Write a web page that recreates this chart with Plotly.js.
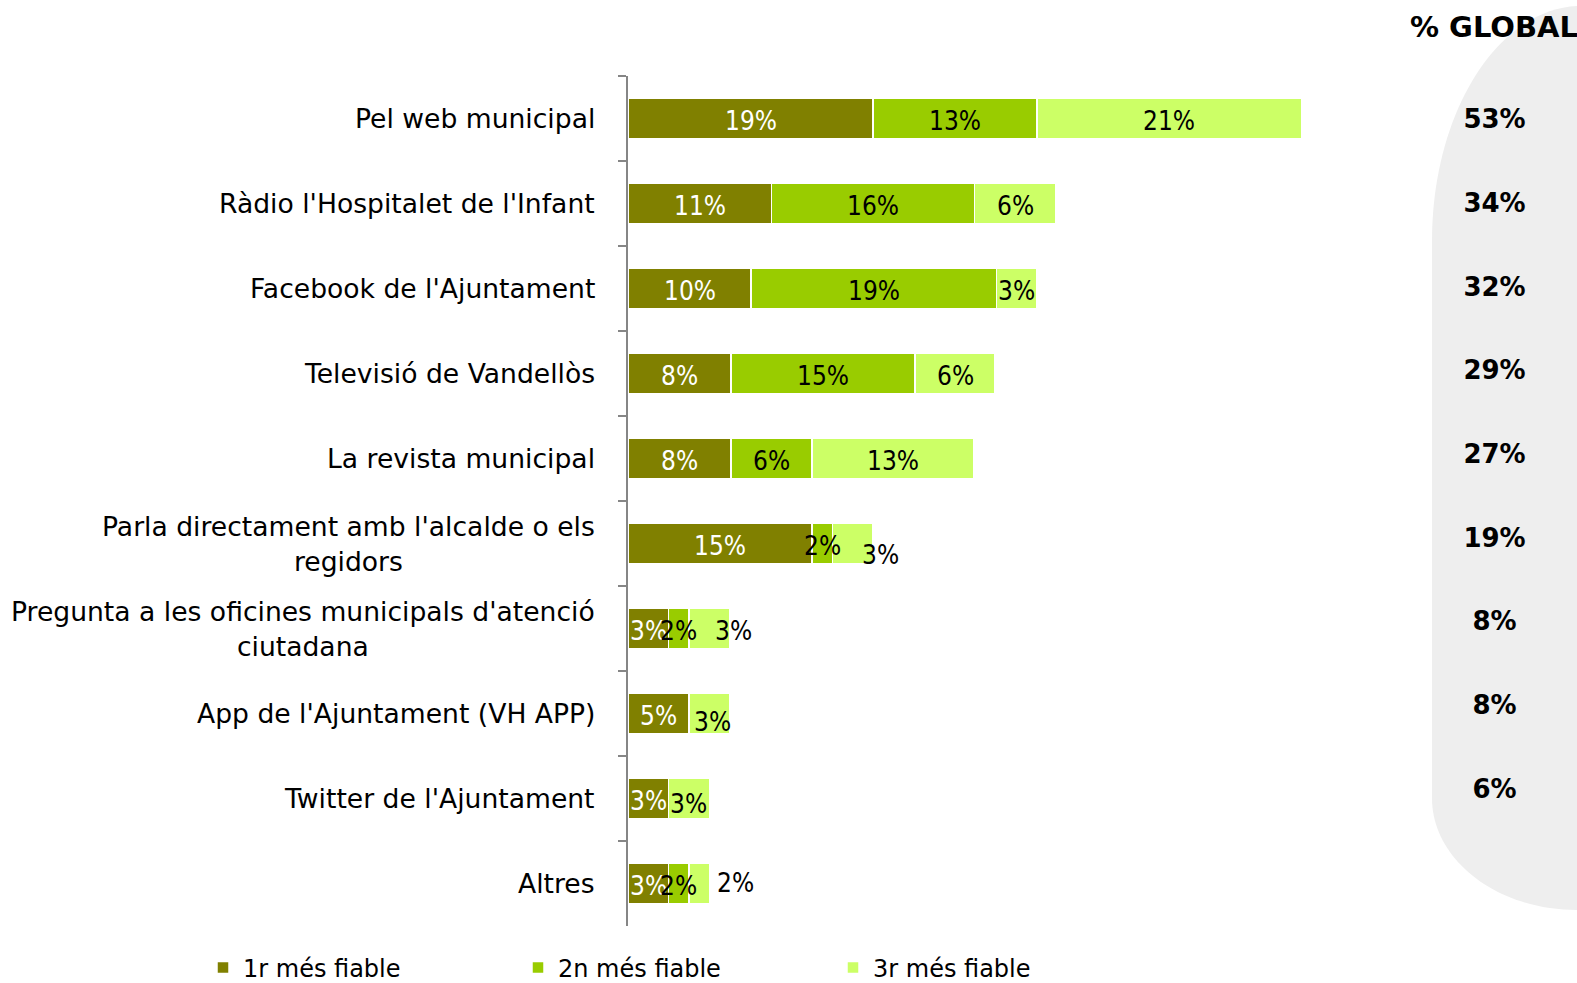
<!DOCTYPE html>
<html>
<head>
<meta charset="utf-8">
<script src="https://cdn.plot.ly/plotly-3.0.1.min.js"></script>
<style>html,body{margin:0;padding:0;background:#fff;}#chart{width:1577px;height:983px;}</style>
</head>
<body>
<div id="chart"></div>
<script>
// ---- data ----
const categories = [
  "Pel web municipal",
  "Ràdio l'Hospitalet de l'Infant",
  "Facebook de l'Ajuntament",
  "Televisió de Vandellòs",
  "La revista municipal",
  "Parla directament amb l'alcalde o els<br>regidors",
  "Pregunta a les oficines municipals d'atenció<br>ciutadana",
  "App de l'Ajuntament (VH APP)",
  "Twitter de l'Ajuntament",
  "Altres"
];
const seriesNames = ["1r més fiable", "2n més fiable", "3r més fiable"];
const first  = [19.3, 11.3, 9.7, 8.1, 8.1, 14.5, 3.2, 4.8, 3.2, 3.2];
const second = [12.9, 16.0, 19.3, 14.5, 6.4, 1.6, 1.6, 0, 0, 1.6];
const third  = [20.85, 6.4, 3.2, 6.3, 12.75, 3.2, 3.2, 3.2, 3.2, 1.6];
const firstLabels  = ["19%","11%","10%","8%","8%","15%","3%","5%","3%","3%"];
const secondLabels = ["13%","16%","19%","15%","6%","2%","2%","","","2%"];
const thirdLabels  = ["21%","6%","3%","6%","13%","3%","3%","3%","3%","2%"];
const globalLabels = ["53%","34%","32%","29%","27%","19%","8%","8%","6%"];
const globalTitle = "% GLOBAL";

// ---- style ----
const FONT = "DejaVu Sans";
const LABEL_FONT = "DejaVu Sans Condensed, DejaVu Sans";
const colors = ["#808000", "#99CC00", "#CCFF66"];
const textColors = ["#FFFFFF", "#000000", "#000000"];
// manual label nudges (px), keyed "row,series"
const labelNudge = {"5,2":[28,-9], "6,2":[24,0], "7,2":[3,-6], "8,2":[0,-3], "9,2":[36,3]};

const W = 1577, H = 983;
const M = {l: 628, r: 0, t: 76, b: 57, autoexpand: false};
const pw = W - M.l - M.r, ph = H - M.t - M.b;
const px2x = px => (px - M.l) / pw;
const py2y = py => (H - M.b - py) / ph;

const values = [first, second, third];
const labels = [firstLabels, secondLabels, thirdLabels];

const traces = values.map((v, s) => ({
  type: "bar", orientation: "h", name: seriesNames[s],
  y: categories, x: v.map(d => d === 0 ? null : d),
  marker: {color: colors[s], line: {color: "#FFFFFF", width: 1.5}},
  hoverinfo: "skip"
}));

// global column as text trace on its own axes
traces.push({
  type: "scatter", mode: "text", showlegend: false, hoverinfo: "skip",
  xaxis: "x2", yaxis: "y2", cliponaxis: false,
  x: globalLabels.map(() => 0.5),
  y: globalLabels.map((_, i) => i),
  text: globalLabels,
  textposition: "middle center",
  textfont: {family: FONT, size: 26, color: "#000", weight: "bold"}
});

const annotations = [];
categories.forEach(c => annotations.push({
  xref: "paper", yref: "y", x: 0, y: c, xanchor: "right", yanchor: "middle",
  xshift: -31, text: c, showarrow: false, align: "center",
  font: {family: FONT, size: 26.6, color: "#000"}
}));
categories.forEach((c, i) => {
  let cum = 0;
  for (let s = 0; s < 3; s++) {
    const v = values[s][i];
    if (v > 0 && labels[s][i]) {
      const n = labelNudge[i + "," + s] || [0, 0];
      annotations.push({
        xref: "x", yref: "y", x: cum + v / 2, y: c, xanchor: "center", yanchor: "middle",
        xshift: n[0], yshift: n[1] - 2, text: labels[s][i], showarrow: false,
        font: {family: LABEL_FONT, size: 26, color: textColors[s]}
      });
    }
    cum += v;
  }
});

// rounded grey panel behind the global column
const L = 1432, T = 6, B = 910, R = 1640, rxT = 150, ryT = 235, rxB = 145, ryB = 112, k = 0.5523;
const P = (x, y) => px2x(x).toFixed(4) + "," + py2y(y).toFixed(4);
const panelPath = "M" + P(L, T + ryT) +
  " C" + P(L, T + ryT - k * ryT) + " " + P(L + rxT - k * rxT, T) + " " + P(L + rxT, T) +
  " L" + P(R, T) + " L" + P(R, B) + " L" + P(L + rxB, B) +
  " C" + P(L + rxB - k * rxB, B) + " " + P(L, B - ryB + k * ryB) + " " + P(L, B - ryB) + " Z";

const layout = {
  width: W, height: H,
  margin: M,
  paper_bgcolor: "#FFFFFF", plot_bgcolor: "rgba(0,0,0,0)",
  barmode: "stack", bargap: 0.52,
  showlegend: true,
  title: {text: "<b>" + globalTitle + "</b>", x: 1494 / W, xanchor: "center", xref: "container",
          y: 1 - 27 / H, yanchor: "middle", yref: "container",
          font: {family: FONT, size: 29, color: "#000"}},
  xaxis: {domain: [0, 762 / pw], range: [0, 60], visible: false, fixedrange: true},
  yaxis: {type: "category", autorange: "reversed", showticklabels: false,
          ticks: "outside", ticklen: 8, tickcolor: "#868686", tickwidth: 2,
          tickson: "boundaries", showline: true, linecolor: "#868686", linewidth: 2,
          showgrid: false, zeroline: false},
  xaxis2: {domain: [px2x(1432), px2x(1557)], anchor: "y2", range: [0, 1], visible: false},
  yaxis2: {domain: [0, 1], anchor: "x2", range: [9.609, -0.546], visible: false},
  legend: {orientation: "h", x: px2x(203), xanchor: "left", y: py2y(968), yanchor: "middle",
           font: {family: FONT, size: 24, color: "#000"}, entrywidth: 270, entrywidthmode: "pixels",
           traceorder: "normal", itemclick: false},
  shapes: [{type: "path", xref: "paper", yref: "paper", path: panelPath,
            fillcolor: "#EEEEEE", line: {width: 0}, layer: "below"}],
  annotations: annotations
};

Plotly.newPlot("chart", traces, layout, {displayModeBar: false, staticPlot: true});
</script>
</body>
</html>
